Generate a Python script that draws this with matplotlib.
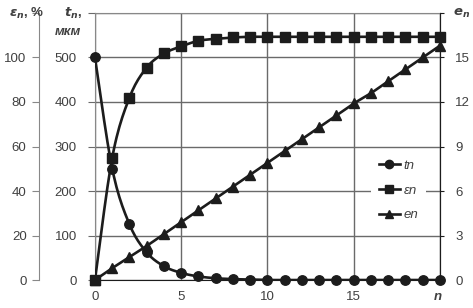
import numpy as np
import matplotlib
matplotlib.use("Agg")
import matplotlib.pyplot as plt
from matplotlib.lines import Line2D

# data
n = np.arange(0, 21)
t_n = [500, 250, 125, 62, 31, 16, 8, 4, 2, 1, 0, 0, 0, 0, 0, 0, 0, 0, 0, 0, 0]
eps_n = [0, 55, 82, 95.5, 101.8, 105, 107.5, 108.4, 109, 109.3, 109.3,
         109.3, 109.3, 109.3, 109.3, 109.3, 109.3, 109.3, 109.3, 109.3, 109.3]
e_n = [0, 0.8, 1.55, 2.3, 3.1, 3.9, 4.7, 5.5, 6.3, 7.1, 7.9,
       8.7, 9.5, 10.3, 11.1, 11.9, 12.6, 13.4, 14.2, 15.0, 15.8]

t_ticks = [0, 100, 200, 300, 400, 500]
eps_ticks = [0, 20, 40, 60, 80, 100]
e_ticks = [0, 3, 6, 9, 12, 15]
n_ticks = [0, 5, 10, 15]


def smooth(x, y, k=12):
    # Catmull-Rom curve through the points (like Excel's smoothed line)
    x = np.asarray(x, float)
    y = np.asarray(y, float)
    px = np.concatenate([[x[0]], x, [x[-1]]])
    py = np.concatenate([[y[0]], y, [y[-1]]])
    s = np.linspace(0, 1, k, endpoint=False)
    xs, ys = [], []
    for i in range(1, len(px) - 2):
        for arr, out in ((px, xs), (py, ys)):
            p0, p1, p2, p3 = arr[i - 1], arr[i], arr[i + 1], arr[i + 2]
            out.extend(0.5 * (2 * p1 + (-p0 + p2) * s
                              + (2 * p0 - 5 * p1 + 4 * p2 - p3) * s ** 2
                              + (-p0 + 3 * p1 - 3 * p2 + p3) * s ** 3))
    xs.append(x[-1])
    ys.append(y[-1])
    return np.array(xs), np.array(ys)


plt.rcParams['font.family'] = ['Liberation Sans', 'DejaVu Sans']
txt = '#404040'
grid_c = '#6a6a6a'
ink = '#1c1c1c'

fig = plt.figure(figsize=(4.73, 3.08), dpi=100)
ax = fig.add_axes([0.2008, 0.0909, 0.7294, 0.8669])
ax_eps = ax.twinx()
ax_e = ax.twinx()

ax.set_xlim(0, 20)
ax.set_ylim(0, 600)
ax_eps.set_ylim(0, 120)
ax_e.set_ylim(0, 18)

# grid
ax.set_yticks(t_ticks + [600])
ax.set_yticklabels([str(v) for v in t_ticks] + [''])
ax.set_xticks(n_ticks + [20])
ax.set_xticklabels([str(v) for v in n_ticks] + [''])
ax.grid(True, color=grid_c, lw=1)
ax.tick_params(axis='y', length=5, color=grid_c, labelsize=9.5, labelcolor=txt, pad=8)
ax.tick_params(axis='x', length=0, labelsize=9.5, labelcolor=txt, pad=8)
for s in ['left', 'top']:
    ax.spines[s].set_color('#888888')
ax.spines['bottom'].set_color(ink)
ax.spines['right'].set_color(ink)

# epsilon axis on far left
ax_eps.spines['left'].set_position(('axes', -0.162))
ax_eps.spines['left'].set_visible(True)
ax_eps.spines['left'].set_color('#888888')
for s in ['right', 'top', 'bottom']:
    ax_eps.spines[s].set_visible(False)
ax_eps.yaxis.set_ticks_position('left')
ax_eps.set_yticks(eps_ticks + [120])
ax_eps.set_yticklabels([str(v) for v in eps_ticks] + [''])
ax_eps.tick_params(axis='y', length=5, color='#888888', labelsize=9.5, labelcolor=txt, pad=4)

# e axis on the right
for s in ['left', 'top', 'bottom']:
    ax_e.spines[s].set_visible(False)
ax_e.spines['right'].set_color(ink)
ax_e.set_yticks(e_ticks + [18])
ax_e.set_yticklabels([str(v) for v in e_ticks] + [''])
ax_e.tick_params(axis='y', length=3, color=ink, labelsize=9.5, labelcolor=txt, pad=8)

lw = 1.9
ms = 6.8
xs, ys = smooth(n, t_n)
ax_e.plot(xs, np.array(ys) * 18 / 600, color=ink, lw=lw, zorder=3)
ax_e.plot(n, np.array(t_n) * 18 / 600, 'o', color=ink, ms=ms, zorder=4, clip_on=False)
xs, ys = smooth(n, e_n)
ax_e.plot(xs, ys, color=ink, lw=lw, zorder=3)
ax_e.plot(n, e_n, '^', color=ink, ms=ms, zorder=4, clip_on=False)
xs, ys = smooth(n, eps_n)
ax_e.plot(xs, np.array(ys) * 18 / 120, color=ink, lw=lw, zorder=3)
ax_e.plot(n, np.array(eps_n) * 18 / 120, 's', color=ink, ms=ms, zorder=5, clip_on=False)

handles = [Line2D([], [], color=ink, lw=lw, marker=m, ms=ms - 0.8) for m in ['o', 's', '^']]
leg = ax_e.legend(handles, ['tn', 'εn', 'en'], loc='center', bbox_to_anchor=(0.88, 0.335),
                  frameon=True, framealpha=1, edgecolor='none', handlelength=1.6,
                  handletextpad=0.3, labelspacing=0.95, borderpad=0.6,
                  prop={'style': 'italic', 'size': 9.5})
for t in leg.get_texts():
    t.set_color(txt)

# axis titles
fig.text(0.018, 0.955, r'$\mathbfit{\varepsilon_n}$, %', fontsize=9.5, color=txt,
         fontweight='bold', va='center')
fig.text(0.155, 0.955, r'$\mathbfit{t_n}$,', fontsize=9.5, color=txt,
         fontweight='bold', va='center', ha='center')
fig.text(0.143, 0.895, 'мкм', fontsize=9.5, color=txt, fontweight='bold',
         fontstyle='italic', va='center', ha='center')
fig.text(0.975, 0.955, r'$\mathbfit{e_n}$', fontsize=9.5, color=txt, va='center', ha='center')
fig.text(0.925, 0.035, 'n', fontsize=9.5, color=txt, fontweight='bold',
         fontstyle='italic', va='center', ha='center')

fig.savefig('out.png', dpi=100)
